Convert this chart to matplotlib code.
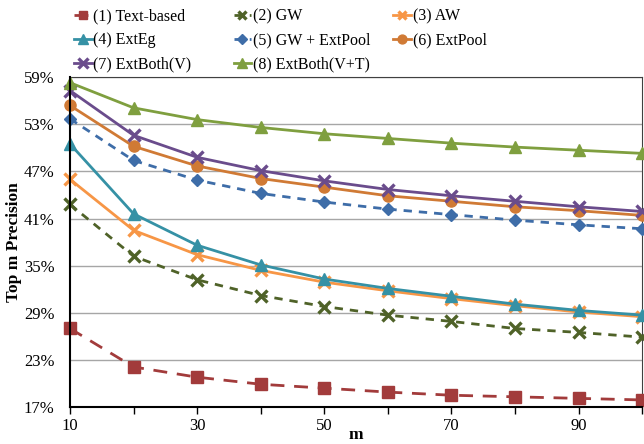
import numpy as np
import matplotlib
matplotlib.use("Agg")
from matplotlib import pyplot as plt
from matplotlib.ticker import FuncFormatter

plt.rcParams['font.family'] = ['Liberation Serif', 'DejaVu Serif']

# data
m = [10, 20, 30, 40, 50, 60, 70, 80, 90, 100]
textBased = [27.0, 22.1, 20.8, 19.9, 19.4, 18.9, 18.5, 18.3, 18.1, 17.9]
gw        = [42.8, 36.2, 33.2, 31.2, 29.8, 28.7, 27.9, 27.0, 26.5, 25.9]
aw        = [46.0, 39.5, 36.4, 34.4, 32.9, 31.8, 30.8, 29.9, 29.1, 28.5]
extEg     = [50.5, 41.6, 37.6, 35.1, 33.3, 32.1, 31.1, 30.1, 29.3, 28.7]
gwExtPool = [53.7, 48.4, 45.9, 44.2, 43.1, 42.2, 41.5, 40.8, 40.2, 39.7]
extPool   = [55.4, 50.2, 47.7, 46.1, 45.0, 43.9, 43.2, 42.5, 42.0, 41.4]
extBothV  = [57.3, 51.6, 48.8, 47.1, 45.8, 44.7, 43.9, 43.2, 42.5, 41.9]
extBothVT = [58.3, 55.1, 53.6, 52.6, 51.8, 51.2, 50.6, 50.1, 49.7, 49.3]

labels = ["(1) Text-based", "(2) GW", "(3) AW", "(4) ExtEg", "(5) GW + ExtPool",
          "(6) ExtPool", "(7) ExtBoth(V)", "(8) ExtBoth(V+T)"]
series = [textBased, gw, aw, extEg, gwExtPool, extPool, extBothV, extBothVT]

# styles: color, marker, markersize, dashes (None = solid)
styles = [
    ("#A23B3B", "s", 8, (5, 3.5)),
    ("#4F6228", "x", 8, (3, 2.5)),
    ("#F79646", "x", 8, None),
    ("#3591A5", "^", 8.5, None),
    ("#3E6DA8", "D", 6.5, (3, 2.5)),
    ("#D07A35", "o", 8, None),
    ("#6A4C8C", "x", 8.5, None),
    ("#7F9F3F", "^", 8.5, None),
]

fig = plt.figure(figsize=(6.44, 4.44), dpi=100)
ax = fig.add_axes([0.1087, 0.0833, 0.8885, 0.7428])

handles = []
for vals, (col, mk, ms, dsh), lab in zip(series, styles, labels):
    kw = dict(color=col, marker=mk, markersize=ms, linewidth=2, label=lab,
              markeredgecolor=col, markerfacecolor=col, clip_on=False, zorder=3)
    if mk == "x":
        kw["markeredgewidth"] = 2.4
    line, = ax.plot(m, vals, **kw)
    if dsh is not None:
        line.set_dashes(dsh)
    handles.append(line)

ax.set_xlim(10, 100)
ax.set_ylim(17, 59)
ax.set_yticks(np.arange(17, 60, 6))
ax.yaxis.set_major_formatter(FuncFormatter(lambda v, p: "%d%%" % v))
ax.set_xticks(m)
ax.xaxis.set_major_formatter(FuncFormatter(lambda v, p: "%d" % v if int(v) % 20 == 10 else ""))
ax.tick_params(axis='y', length=0, labelsize=12, pad=11)
ax.tick_params(axis='x', direction='out', length=5, width=1, labelsize=12, pad=3)
ax.grid(axis='y', color='#A6A6A6', linewidth=1)
ax.set_axisbelow(True)

for s in ['left', 'bottom']:
    ax.spines[s].set_color('black')
    ax.spines[s].set_linewidth(1.5)
    ax.spines[s].set_zorder(4)
for s in ['top', 'right']:
    ax.spines[s].set_color('#404040')
    ax.spines[s].set_linewidth(0.8)

ax.set_xlabel("m", fontsize=12.5, fontweight='bold')
ax.xaxis.set_label_coords(0.5, -0.062)
ax.set_ylabel("Top m Precision", fontsize=12.5, fontweight='bold')
ax.yaxis.set_label_coords(-0.084, 0.5)

# legend in three columns placed by hand
cols = [[0, 3, 6], [1, 4, 7], [2, 5]]
xpos = [0.100, 0.348, 0.596]
for c, xp in zip(cols, xpos):
    lg = fig.legend([handles[i] for i in c], [labels[i] for i in c],
                    loc='upper left', bbox_to_anchor=(xp, 1.003), frameon=False,
                    fontsize=11.5, handlelength=1.1, handletextpad=0.1,
                    labelspacing=0.5, borderaxespad=0.2, markerscale=0.8)

plt.savefig("out.png", dpi=100)
